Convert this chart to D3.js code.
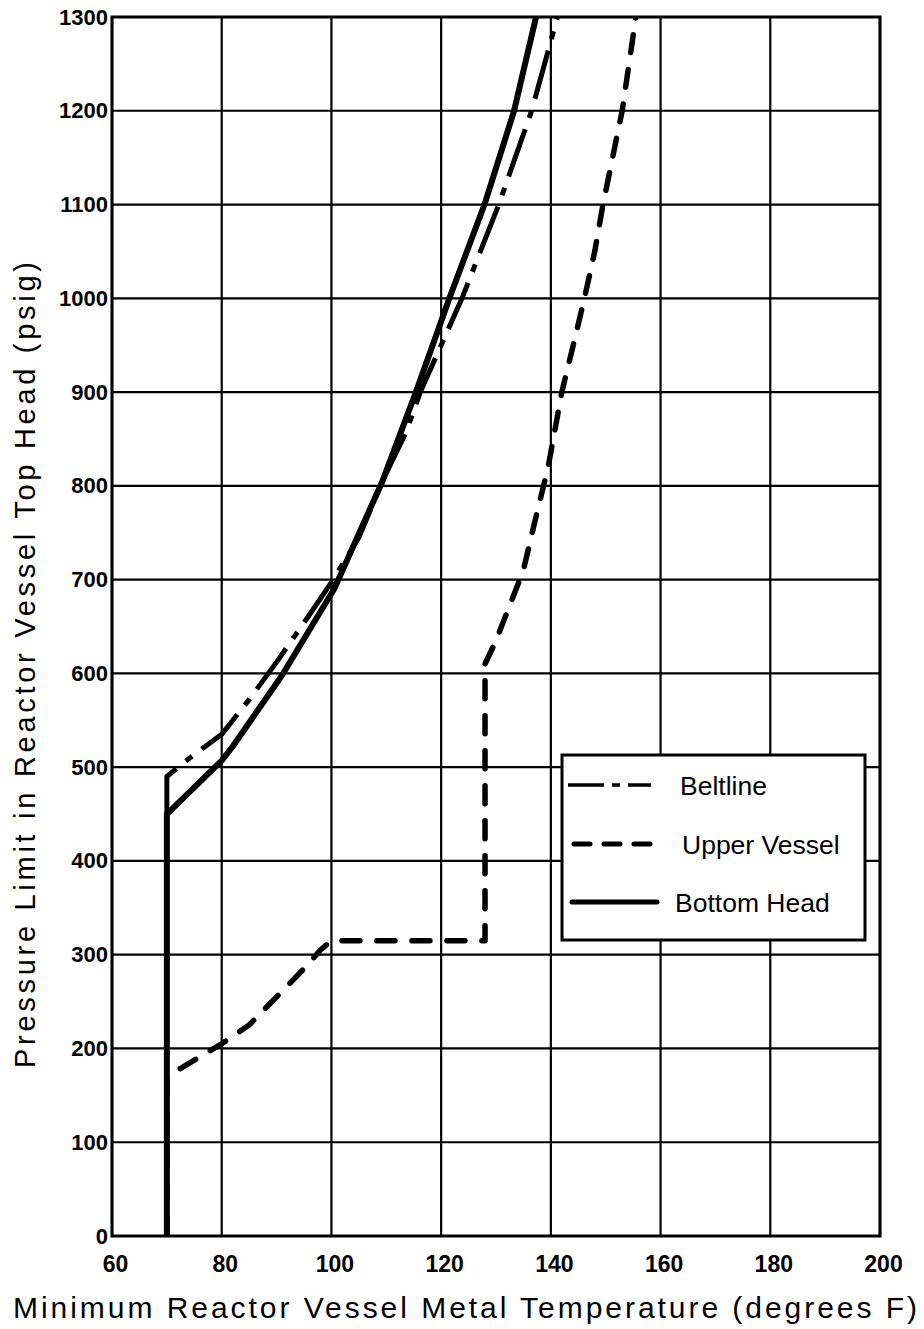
<!DOCTYPE html>
<html>
<head>
<meta charset="utf-8">
<script src="https://cdn.jsdelivr.net/npm/d3@7"></script>
<style>
  html, body { margin: 0; padding: 0; background: #fff; }
  svg { display: block; }
</style>
</head>
<body>
<svg id="chart" width="924" height="1329"></svg>
<script>
// ---- data ----
const xTicks = [60, 80, 100, 120, 140, 160, 180, 200];
const yTicks = [0, 100, 200, 300, 400, 500, 600, 700, 800, 900, 1000, 1100, 1200, 1300];

const beltlineT = [70, 70, 73.3, 76.5, 80, 85, 90, 95, 100, 105, 109.3, 113.6, 116.2, 120, 123.8, 130.5, 136.5, 141.2];
const beltlineP = [450, 490, 506, 520, 535, 572, 612, 654, 697, 745, 805, 857, 900, 950, 1000, 1100, 1200, 1300];

const upperT = [70, 70, 80, 85, 90, 95, 98, 100, 128, 128, 130, 135, 137, 139.5, 142, 144.5, 146.5, 148, 149.5, 153, 155.5];
const upperP = [0, 170, 205, 225, 255, 285, 305, 315, 315, 610, 635, 710, 760, 820, 900, 960, 1010, 1050, 1100, 1200, 1300];

const bottomT = [70, 70, 80, 82, 91, 100.5, 109.3, 115.4, 121.5, 127.9, 133.3, 137.3];
const bottomP = [0, 450, 507, 522, 598, 690, 805, 900, 1000, 1100, 1200, 1300];

const seriesNames = ["Beltline", "Upper Vessel", "Bottom Head"];

// ---- drawing ----
const svg = d3.select("#chart");
const x = d3.scaleLinear().domain([60, 200]).range([112, 880]);
const y = d3.scaleLinear().domain([0, 1300]).range([1236, 17]);

const font = "'Liberation Sans', Arial, sans-serif";

// gridlines
svg.append("g").selectAll("line").data(xTicks).join("line")
  .attr("x1", d => x(d)).attr("x2", d => x(d))
  .attr("y1", y(0)).attr("y2", y(1300))
  .attr("stroke", "#000").attr("stroke-width", 2.2);
svg.append("g").selectAll("line").data(yTicks).join("line")
  .attr("x1", x(60)).attr("x2", x(200))
  .attr("y1", d => y(d)).attr("y2", d => y(d))
  .attr("stroke", "#000").attr("stroke-width", 2.2);

// frame
svg.append("rect")
  .attr("x", x(60)).attr("y", y(1300))
  .attr("width", x(200) - x(60)).attr("height", y(0) - y(1300))
  .attr("fill", "none").attr("stroke", "#000").attr("stroke-width", 3);

// axes (labels only)
const xAxis = d3.axisBottom(x).tickValues(xTicks).tickSize(0).tickPadding(0).tickFormat(d3.format("d"));
const gx = svg.append("g").attr("transform", `translate(3,${y(0) + 29})`).call(xAxis);
gx.select(".domain").remove();
gx.selectAll("text").attr("font-family", font).attr("font-size", 23).attr("font-weight", "bold")
  .attr("fill", "#000").attr("dy", "0.3em");

const yAxis = d3.axisLeft(y).tickValues(yTicks).tickSize(0).tickPadding(0).tickFormat(d3.format("d"));
const gy = svg.append("g").attr("transform", `translate(${x(60) - 4},0)`).call(yAxis);
gy.select(".domain").remove();
gy.selectAll("text").attr("font-family", font).attr("font-size", 22).attr("font-weight", "bold")
  .attr("fill", "#000");

// axis titles
svg.append("text")
  .attr("x", 13).attr("y", 1318)
  .attr("font-family", font).attr("font-size", 30)
  .attr("textLength", 904).attr("lengthAdjust", "spacing")
  .text("Minimum Reactor Vessel Metal Temperature (degrees F)");

svg.append("text")
  .attr("transform", "translate(35,1068) rotate(-90)")
  .attr("font-family", font).attr("font-size", 29)
  .attr("textLength", 806).attr("lengthAdjust", "spacing")
  .text("Pressure Limit in Reactor Vessel Top Head (psig)");

// series lines
const line = d3.line().x(d => x(d[0])).y(d => y(d[1])).curve(d3.curveLinear);
const beltline = beltlineT.map((t, i) => [t, beltlineP[i]]);
const upper = upperT.map((t, i) => [t, upperP[i]]);
const bottom = bottomT.map((t, i) => [t, bottomP[i]]);

const styles = [
  { dash: "50,12,8,12", width: 5, cap: "butt" },
  { dash: "18,17", width: 5.5, cap: "round" },
  { dash: null, width: 6, cap: "butt" }
];

svg.append("clipPath").attr("id", "plotclip").append("rect")
  .attr("x", x(60)).attr("y", y(1300)).attr("width", x(200) - x(60)).attr("height", y(0) - y(1300));

const pg = svg.append("g").attr("clip-path", "url(#plotclip)");
[beltline, upper, bottom].forEach((data, i) => {
  pg.append("path").datum(data)
    .attr("d", line)
    .attr("fill", "none").attr("stroke", "#000")
    .attr("stroke-width", styles[i].width)
    .attr("stroke-linecap", styles[i].cap)
    .attr("stroke-linejoin", "round")
    .attr("stroke-dasharray", styles[i].dash);
});

// legend
const lg = svg.append("g");
lg.append("rect").attr("x", 562).attr("y", 755).attr("width", 303).attr("height", 185)
  .attr("fill", "#fff").attr("stroke", "#000").attr("stroke-width", 3);
const legendRows = [
  { y: 785, x1: 568, x2: 651, tx: 680, dash: "36,8,8,8", width: 3.5, cap: "butt" },
  { y: 844, x1: 574, x2: 654, tx: 682, dash: "16,14", width: 5, cap: "round" },
  { y: 902, x1: 572, x2: 657, tx: 675, dash: null, width: 5, cap: "round" }
];
legendRows.forEach((r, i) => {
  lg.append("line").attr("x1", r.x1).attr("x2", r.x2).attr("y1", r.y).attr("y2", r.y)
    .attr("stroke", "#000").attr("stroke-width", r.width)
    .attr("stroke-linecap", r.cap).attr("stroke-dasharray", r.dash);
  lg.append("text").attr("x", r.tx).attr("y", r.y + 10)
    .attr("font-family", font).attr("font-size", 26.5)
    .text(seriesNames[i]);
});
</script>
</body>
</html>
